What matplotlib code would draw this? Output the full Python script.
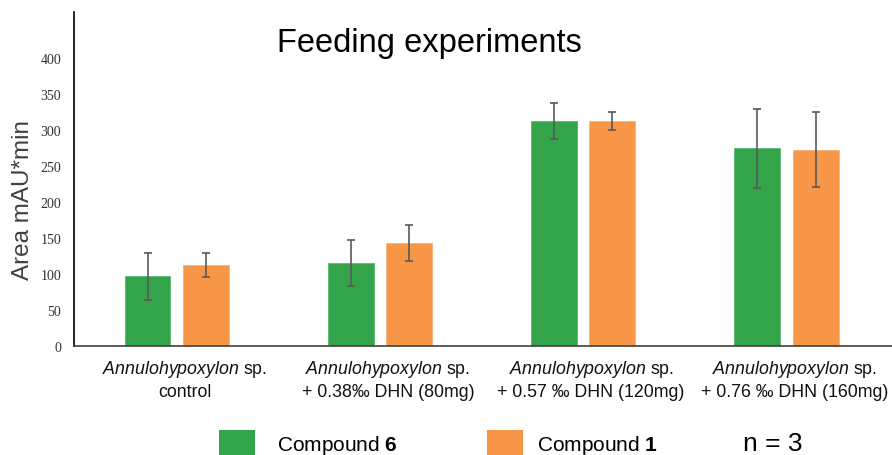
import matplotlib
matplotlib.use('Agg')
import matplotlib.pyplot as plt
import matplotlib.transforms as mtrans
import numpy as np
from matplotlib.patches import Rectangle

plt.rcParams['font.family'] = 'Liberation Sans'
plt.rcParams['mathtext.fontset'] = 'custom'
plt.rcParams['mathtext.rm'] = 'Liberation Sans'
plt.rcParams['mathtext.it'] = 'Liberation Sans:italic'
plt.rcParams['mathtext.bf'] = 'Liberation Sans:bold'

# data
groups = [r'$\mathit{Annulohypoxylon}$ sp.' + '\ncontrol',
          r'$\mathit{Annulohypoxylon}$ sp.' + '\n+ 0.38‰ DHN (80mg)',
          r'$\mathit{Annulohypoxylon}$ sp.' + '\n+ 0.57 ‰ DHN (120mg)',
          r'$\mathit{Annulohypoxylon}$ sp.' + '\n+ 0.76 ‰ DHN (160mg)']
compound6 = [96, 115, 312, 274]
compound6_err = [33, 32, 25, 55]
compound1 = [112, 142, 312, 272]
compound1_err = [17, 25, 12.5, 52]
yticks = [0, 50, 100, 150, 200, 250, 300, 350, 400]

green = '#34A44B'
orange = '#F79646'
errc = '#595959'

fig = plt.figure(figsize=(8.92, 4.56), dpi=100)
ax = fig.add_axes([0.0824, 0.2401, 0.9176, 0.7307])

x = np.arange(len(groups))
w = 0.226
off = 0.143
ax.bar(x - off, compound6, w, color=green, edgecolor='#5DB96F', linewidth=0.6,
       yerr=compound6_err, error_kw=dict(ecolor=errc, elinewidth=1.2, capsize=3, capthick=1.2))
ax.bar(x + off, compound1, w, color=orange, edgecolor='#F9B07A', linewidth=0.6,
       yerr=compound1_err, error_kw=dict(ecolor=errc, elinewidth=1.2, capsize=3, capthick=1.2))

ax.set_xlim(-0.507, 3.519)
ax.set_ylim(0, 463)
ax.set_yticks(yticks)
ax.set_yticklabels([str(v) for v in yticks], family='Liberation Serif', fontsize=10, color='#333333')
ax.set_xticks(x)
ax.set_xticklabels(groups, fontsize=12.8, color='#111111', linespacing=1.3)
ax.tick_params(axis='y', length=0, pad=9)
ax.tick_params(axis='x', length=0, pad=9)

# category labels sit a little right of the bar pairs
shift = mtrans.ScaledTranslation(8 / 100, 0, fig.dpi_scale_trans)
for lab in ax.get_xticklabels():
    lab.set_transform(lab.get_transform() + shift)

ax.spines['top'].set_visible(False)
ax.spines['right'].set_visible(False)
ax.spines['left'].set_color('black')
ax.spines['left'].set_linewidth(1.2)
ax.spines['bottom'].set_color('#404040')
ax.spines['bottom'].set_linewidth(1.2)

fig.text(429 / 892, 1 - 52 / 456, 'Feeding experiments', fontsize=23.5,
         ha='center', va='baseline', color='black')
fig.text(23 / 892, 1 - 200 / 456, 'Area mAU*min', fontsize=17.5, rotation=90,
         ha='center', va='center', color='#404040')

# legend drawn by hand at the bottom
sq_w = 36 / 892
sq_h = 30 / 456
fig.patches.append(Rectangle((219 / 892, 1 - 461 / 456), sq_w, sq_h, transform=fig.transFigure,
                             facecolor=green, edgecolor='none'))
fig.patches.append(Rectangle((487 / 892, 1 - 461 / 456), sq_w, sq_h, transform=fig.transFigure,
                             facecolor=orange, edgecolor='none'))
fig.text(277 / 892, 1 - 451.5 / 456, r'Compound $\mathbf{6}$', fontsize=15, va='baseline', ha='left')
fig.text(537 / 892, 1 - 451.5 / 456, r'Compound $\mathbf{1}$', fontsize=15, va='baseline', ha='left')
fig.text(743 / 892, 1 - 451 / 456, 'n = 3', fontsize=19, va='baseline', ha='left')

plt.savefig('out.png', dpi=100)
